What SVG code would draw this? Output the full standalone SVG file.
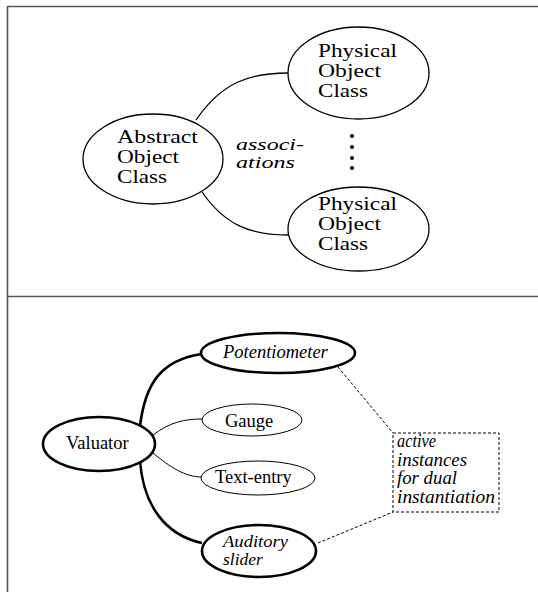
<svg xmlns="http://www.w3.org/2000/svg" width="538" height="592" viewBox="0 0 538 592">
<style>
.frame{stroke:#555;stroke-width:1.6;fill:none}
.node{fill:#fff;stroke:#000;stroke-width:1.3}
.thick{fill:#fff;stroke:#000;stroke-width:2.6}
.thin{fill:#fff;stroke:#000;stroke-width:1}
.conn{fill:none;stroke:#000;stroke-width:1.3}
.cthick{fill:none;stroke:#000;stroke-width:2.6}
.cthin{fill:none;stroke:#000;stroke-width:1}
.dash{fill:none;stroke:#000;stroke-width:1;stroke-dasharray:3,2}
.t{font-size:19.5px;fill:#000}
.a{font-size:17px;fill:#000}
.b{font-size:18.5px;fill:#000}
.n{font-size:18px;fill:#000}
.m{font-size:17.5px;fill:#000}
.i{font-style:italic}
</style>
<rect width="538" height="592" fill="#fff"/>
<g id="frame">
<path class="frame" d="M7.5,592 V6.5 H538 M7.5,296.5 H538"/>
</g>
<g id="connectors">
<path class="conn" d="M196,120 C222,82 250,73 288,73"/>
<path class="conn" d="M202,192 C225,225 250,235 288,235"/>
<path class="cthick" d="M140,426 C145,385 160,360 202,354"/>
<path class="cthin" d="M153,435 C170,422 185,419 202,419"/>
<path class="cthin" d="M153,453 C170,467 185,477 202,477"/>
<path class="cthick" d="M140,460 C143,505 165,535 202,543"/>
<path class="dash" d="M338,367 L393,433"/>
<path class="dash" d="M318,543 L393,512"/>
</g>
<g font-family="Liberation Serif, Times New Roman, serif">
<g id="abstract">
<ellipse class="node" cx="153" cy="159" rx="70" ry="45"/>
<text class="t" x="117" y="143" textLength="81" lengthAdjust="spacingAndGlyphs">Abstract</text>
<text class="t" x="117" y="163" textLength="62" lengthAdjust="spacingAndGlyphs">Object</text>
<text class="t" x="117" y="183" textLength="50" lengthAdjust="spacingAndGlyphs">Class</text>
</g>
<g id="physical1">
<ellipse class="node" cx="358.5" cy="73" rx="70.5" ry="46"/>
<text class="t" x="318" y="57" textLength="79" lengthAdjust="spacingAndGlyphs">Physical</text>
<text class="t" x="318" y="77" textLength="63" lengthAdjust="spacingAndGlyphs">Object</text>
<text class="t" x="318" y="97" textLength="50" lengthAdjust="spacingAndGlyphs">Class</text>
</g>
<g id="physical2">
<ellipse class="node" cx="358.5" cy="229" rx="70.5" ry="42"/>
<text class="t" x="318" y="210" textLength="79" lengthAdjust="spacingAndGlyphs">Physical</text>
<text class="t" x="318" y="230" textLength="63" lengthAdjust="spacingAndGlyphs">Object</text>
<text class="t" x="318" y="250" textLength="50" lengthAdjust="spacingAndGlyphs">Class</text>
</g>
<g id="associations">
<text class="a i" x="236" y="149.5" textLength="68" lengthAdjust="spacingAndGlyphs">associ-</text>
<text class="a i" x="236" y="168" textLength="59" lengthAdjust="spacingAndGlyphs">ations</text>
</g>
<g id="valuator">
<ellipse class="thick" cx="99" cy="444" rx="56" ry="27"/>
<text class="b" x="66" y="449">Valuator</text>
</g>
<g id="potentiometer">
<ellipse class="thick" cx="278" cy="353" rx="77" ry="20"/>
<text class="b i" x="223" y="358">Potentiometer</text>
</g>
<g id="gauge">
<ellipse class="thin" cx="252" cy="420" rx="50" ry="16"/>
<text class="b" x="225" y="427">Gauge</text>
</g>
<g id="textentry">
<ellipse class="thin" cx="258" cy="478" rx="57" ry="17"/>
<text class="b" x="215" y="483">Text-entry</text>
</g>
<g id="auditory">
<ellipse class="thick" cx="259" cy="551" rx="57" ry="26"/>
<text class="m i" x="223" y="546.5" textLength="65" lengthAdjust="spacingAndGlyphs">Auditory</text>
<text class="m i" x="223" y="565">slider</text>
</g>
<g id="note">
<rect class="dash" x="393" y="433" width="106" height="79"/>
<text class="n i" x="397" y="447" textLength="39" lengthAdjust="spacingAndGlyphs">active</text>
<text class="n i" x="397" y="465.7" textLength="70" lengthAdjust="spacingAndGlyphs">instances</text>
<text class="n i" x="397" y="484.3" textLength="60" lengthAdjust="spacingAndGlyphs">for dual</text>
<text class="n i" x="397" y="503" textLength="98" lengthAdjust="spacingAndGlyphs">instantiation</text>
</g>
</g>
<g id="dots">
<circle cx="352" cy="136" r="2"/>
<circle cx="352" cy="147" r="2"/>
<circle cx="352" cy="158" r="2"/>
<circle cx="352" cy="168" r="2"/>
</g>
</svg>
